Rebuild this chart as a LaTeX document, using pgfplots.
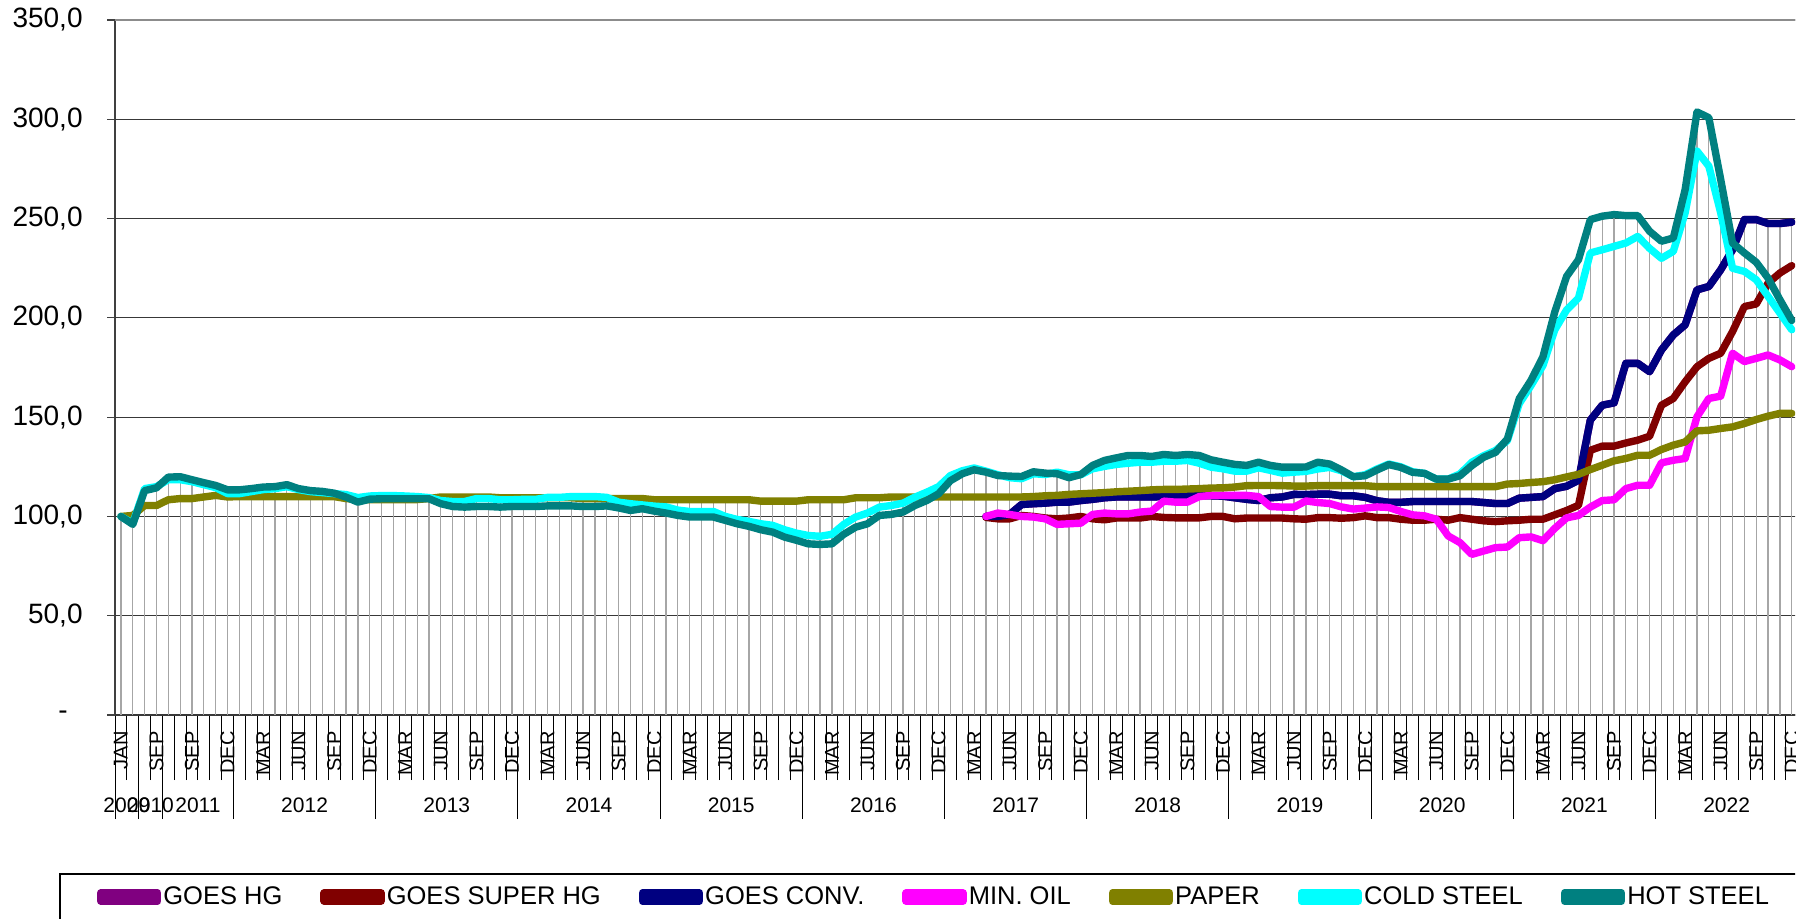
\documentclass[border=0pt]{standalone}
\usepackage{fontspec}
\setmainfont{Liberation Sans}
\newfontfamily\lsans{Liberation Sans}
\usepackage{pgfplots}
\usepackage{pgfplotstable}
\pgfplotsset{compat=1.18}

\definecolor{cgh}{HTML}{800080}
\definecolor{csh}{HTML}{800000}
\definecolor{ccv}{HTML}{000080}
\definecolor{cmo}{HTML}{FF00FF}
\definecolor{cpa}{HTML}{808000}
\definecolor{ccs}{HTML}{00FFFF}
\definecolor{chs}{HTML}{008080}

\pgfplotstableread{
i pa cs hs
0 100 100 100
1 100.5 96.5 96
2 105.5 114 113
3 105.5 115 114.4
4 108.4 118.5 119.8
5 109 118.5 120
6 109 117.5 118.5
7 109.8 116 117
8 110.6 114.5 115.6
9 109.8 111.5 113.4
10 110 111.5 113.4
11 110 112.5 114
12 110 113.5 114.8
13 110 114 115
14 110 115 116
15 110 113.5 114
16 110 112.5 113
17 110 112 112.6
18 110 111.5 111.7
19 109 111 109.7
20 108.5 109.5 107.2
21 108.5 110.3 108.7
22 108.5 110.5 108.9
23 108.5 110.5 108.9
24 108.5 110.3 108.9
25 108.5 110 108.9
26 109 109.5 108.9
27 109.8 108 106.4
28 109.8 107.5 105
29 109.8 107.5 104.7
30 109.8 109 105
31 109.8 109 105
32 109.4 108.4 104.7
33 109.4 108.4 105
34 109.4 108.6 105
35 109.4 108.6 105
36 109.4 109.6 105.3
37 109.4 109.6 105.3
38 109.4 110 105.3
39 109 110 105
40 109 110 105
41 109 109.6 105.3
42 109 107.2 104.3
43 109 106.4 103
44 109 105.8 103.9
45 108.4 105.2 102.7
46 108.4 104.8 101.7
47 108.4 103.2 100.5
48 108.4 102.5 99.7
49 108.4 102.5 99.7
50 108.4 102.5 99.7
51 108.4 100 98
52 108.4 98.5 96.3
53 108.4 97.5 95
54 107.7 96.3 93.3
55 107.7 95.5 92.1
56 107.7 93.3 89.6
57 107.7 91.6 88
58 108.4 90.4 86.2
59 108.4 90 85.9
60 108.4 91 86.2
61 108.4 96 91
62 109.4 99.7 94.6
63 109.4 101.7 96.3
64 109.4 104.7 100.5
65 109.8 105.5 101
66 109.8 106.7 102.2
67 109.8 109.7 105.5
68 109.8 112.2 108
69 109.8 115 111.4
70 109.8 120.6 118
71 109.8 123 121.5
72 109.8 124.4 123.5
73 109.8 122.8 122.3
74 109.8 121 120.6
75 109.8 119.5 120.3
76 109.8 119 120.1
77 110 121.5 122.5
78 110.4 121.1 121.8
79 110.6 122.3 121.5
80 111.1 121 119.5
81 111.4 121 121.1
82 111.7 124 125.7
83 112 125.2 128.2
84 112.4 126.2 129.5
85 112.7 126.8 130.7
86 113 127.3 130.7
87 113.4 127.3 130.2
88 113.6 127.8 131.2
89 113.6 127.8 130.7
90 113.8 128.2 131.2
91 114 126.8 130.7
92 114.3 124.8 128.5
93 114.4 124 127.3
94 114.8 122.8 126.2
95 115.5 122.8 125.7
96 115.6 124.5 127.3
97 115.6 123.2 125.7
98 115.5 121.8 124.8
99 115.3 122.3 124.8
100 115.3 122.7 124.9
101 115.5 123.9 127.3
102 115.5 124.7 126.4
103 115.5 123 123.4
104 115.5 120 120
105 115.5 121 120.5
106 115 123.9 123.4
107 115 126.4 126.1
108 115 125 124.7
109 115 122.5 122.2
110 115 121.7 121.7
111 115 118.8 118.8
112 115 118.8 118.8
113 115 121.4 120.5
114 115 127.3 125.6
115 115 130.6 129.8
116 115 133.2 132.3
117 116.3 138.2 139
118 116.6 156.8 159.3
119 117.1 166 168.6
120 117.5 176 180.4
121 118.5 194 203
122 119.9 204 220.9
123 121.2 210 229.3
124 123.6 232.7 249.5
125 125.8 234.3 251.2
126 128 236 252
127 129.2 237.7 251.5
128 130.8 241 251.5
129 130.8 235 243.6
130 133.7 230 238.6
131 135.9 233.5 240.2
132 137.5 252.9 264.6
133 143.1 284 303.7
134 143.4 276.4 300.8
135 144.3 252.9 269.7
136 145.1 225 237.7
137 146.8 223.4 232.7
138 148.8 219.2 228
139 150.5 210.8 220
140 151.9 202.4 209.1
141 151.9 194 198.7
}\tabA

\pgfplotstableread{
i sh cv mo
73 99.5 100 100
74 98.8 100 101.7
75 98.8 101 101
76 100.5 106 100
77 100 106.4 99.7
78 99.2 106.7 98.8
79 98.8 107.2 96
80 99.2 107.2 96.3
81 100 108 96.6
82 98.8 108.6 101
83 98.3 109.4 101.7
84 99.2 109.8 101.3
85 99.2 109.8 101.3
86 99.2 109.8 102.2
87 100 109.8 102.7
88 99.5 110 107.7
89 99.3 110.6 107.2
90 99.3 110.6 107.2
91 99.3 110.6 110
92 100 110.4 110.6
93 100 110.2 110.6
94 98.8 109.4 110.6
95 99.2 108.6 110.6
96 99.2 108 110
97 99.2 109.4 105
98 99.2 109.8 104.7
99 98.8 111.1 104.7
100 98.6 111 107.8
101 99.4 111.2 107
102 99.4 111.2 106.5
103 99.1 110.4 104.8
104 99.4 110.4 103.7
105 100.3 109.6 104.2
106 99.4 107.9 104.8
107 99.4 107.1 104.5
108 98.6 107.1 102.5
109 98.1 107.5 100.8
110 98.1 107.5 100.3
111 98.6 107.5 98.6
112 98.1 107.5 90.2
113 99.4 107.5 86.8
114 98.6 107.5 80.9
115 97.8 107 82.6
116 97.4 106.5 84.3
117 97.8 106.5 84.6
118 98.1 109.2 89.3
119 98.6 109.6 89.7
120 98.6 110 87.8
121 100.8 114 94
122 103 115.2 99.3
123 105.6 118.2 100.5
124 133.3 148.5 104.7
125 135.4 156 108
126 135.4 157.2 108.4
127 137 177.1 114
128 138.4 177.1 115.7
129 140.4 172.9 115.7
130 156 183.8 127
131 159.4 191.4 128.3
132 167.8 196.5 129.2
133 175.4 214.1 150.2
134 179.6 215.8 159.4
135 182.2 224.2 160.6
136 193.1 234.3 182.2
137 205.7 249.5 178
138 207 249.5 179.6
139 217.5 247.5 181.3
140 222.6 247.5 178.8
141 226.3 248.2 175.4
}\tabB

\newcommand{\yrfont}{\lsans\fontsize{10.5pt}{10.5pt}\selectfont}
\newcommand{\m}[1]{\mbox{\lsans #1}}

\begin{document}
\begin{tikzpicture}
\useasboundingbox (0,0) rectangle (902.5pt,459pt);
\clip (0,0) rectangle (897.5pt,459pt);
\begin{axis}[
  at={(57.5pt,101.5pt)}, anchor=south west,
  scale only axis, width=841.35pt, height=347.5pt,
  xmin=-0.5, xmax=141.5, ymin=0, ymax=350,
  clip=false,
  axis x line*=bottom, axis y line*=left,
  x axis line style={black, line width=0.6pt},
  y axis line style={black!75, line width=0.9pt},
  tick align=outside,
  major tick length=32.5pt,
  minor tick length=52pt,
  xtick={-0.5,0.5,...,141.5},
  xticklabels={},
  xtick style={black, line width=0.5pt},
  minor xtick={-0.5,1.5,3.5,9.5,21.5,33.5,45.5,57.5,69.5,81.5,93.5,105.5,117.5,129.5},
  extra x ticks={0,3,...,141},
  extra x tick labels={\m{JAN},\m{SEP},\m{SEP},\m{DEC},\m{MAR},\m{JUN},\m{SEP},\m{DEC},\m{MAR},\m{JUN},\m{SEP},\m{DEC},\m{MAR},\m{JUN},\m{SEP},\m{DEC},\m{MAR},\m{JUN},\m{SEP},\m{DEC},\m{MAR},\m{JUN},\m{SEP},\m{DEC},\m{MAR},\m{JUN},\m{SEP},\m{DEC},\m{MAR},\m{JUN},\m{SEP},\m{DEC},\m{MAR},\m{JUN},\m{SEP},\m{DEC},\m{MAR},\m{JUN},\m{SEP},\m{DEC},\m{MAR},\m{JUN},\m{SEP},\m{DEC},\m{MAR},\m{JUN},\m{SEP},\m{DEC}},
  extra x tick style={major tick length=0pt, grid=none,
    tick label style={rotate=90, anchor=east, font=\lsans\fontsize{10pt}{10pt}\selectfont, inner sep=0pt}},
  xticklabel shift=8pt,
  ytick=\empty,
  extra y ticks={0,50,...,350},
  extra y tick labels={\m{-\hspace{7.5pt}},\m{50,0},\m{100,0},\m{150,0},\m{200,0},\m{250,0},\m{300,0},\m{350,0}},
  extra y tick style={major tick length=4pt, grid=major, major grid style={black!78, line width=0.6pt},
    tick style={black!75, line width=0.6pt},
    tick label style={font=\lsans\fontsize{14pt}{14pt}\selectfont, inner sep=0pt}},
  yticklabel shift=12pt,
  legend columns=7,
  legend style={draw=none, fill=none, inner sep=0pt, outer sep=0pt,
    at={(-0.0107,-0.2619)}, anchor=west,
    font=\lsans\fontsize{12.75pt}{13pt}\selectfont,
    nodes={inner sep=1pt},
    /tikz/every even column/.append style={column sep=18pt}},
  legend image code/.code={\draw[#1,line cap=round] (0pt,0pt)--(25pt,0pt); \path (-1.75pt,-2pt) rectangle (26.75pt,2pt);},
]
% lighter top gridline
\draw[black!45, line width=0.7pt] (axis cs:-0.5,350) -- (axis cs:141.5,350);
% drop lines
\addplot[ycomb, draw=black!35, line width=0.6pt, forget plot] table[x=i,y=hs]{\tabA};
\addplot[ycomb, draw=black!35, line width=0.6pt, forget plot] table[x=i,y=cs]{\tabA};
\addplot[ycomb, draw=black!35, line width=0.6pt, forget plot] table[x=i,y=pa]{\tabA};
\addplot[ycomb, draw=black!35, line width=0.6pt, forget plot] table[x=i,y=cv]{\tabB};
\addplot[ycomb, draw=black!35, line width=0.6pt, forget plot] table[x=i,y=sh]{\tabB};
\addplot[ycomb, draw=black!35, line width=0.6pt, forget plot] table[x=i,y=mo]{\tabB};
% series
\addplot[cgh, line width=3.7pt, line join=round, line cap=round, mark=none] table[x=i,y=cv]{\tabB};
\addlegendentry{GOES HG}
\addplot[csh, line width=3.7pt, line join=round, line cap=round, mark=none] table[x=i,y=sh]{\tabB};
\addlegendentry{GOES SUPER HG}
\addplot[ccv, line width=3.7pt, line join=round, line cap=round, mark=none] table[x=i,y=cv]{\tabB};
\addlegendentry{GOES CONV.}
\addplot[cmo, line width=3.7pt, line join=round, line cap=round, mark=none] table[x=i,y=mo]{\tabB};
\addlegendentry{MIN. OIL}
\addplot[cpa, line width=3.7pt, line join=round, line cap=round, mark=none] table[x=i,y=pa]{\tabA};
\addlegendentry{PAPER}
\addplot[ccs, line width=3.7pt, line join=round, line cap=round, mark=none] table[x=i,y=cs]{\tabA};
\addlegendentry{COLD STEEL}
\addplot[chs, line width=3.7pt, line join=round, line cap=round, mark=none] table[x=i,y=hs]{\tabA};
\addlegendentry{HOT STEEL}
% year labels
\node[font=\yrfont, yshift=-45pt] at (axis cs:0.5,0) {2009};
\node[font=\yrfont, yshift=-45pt] at (axis cs:2.5,0) {2010};
\node[font=\yrfont, yshift=-45pt] at (axis cs:6.5,0) {2011};
\pgfplotsinvokeforeach{2012,...,2022}{
  \node[font=\yrfont, yshift=-45pt] at (axis cs:{15.5+12*(#1-2012)},0) {#1};
}
\end{axis}
\draw[black, line width=0.6pt] (30pt,-3pt) -- (30pt,22pt) -- (902pt,22pt);
\end{tikzpicture}
\end{document}
